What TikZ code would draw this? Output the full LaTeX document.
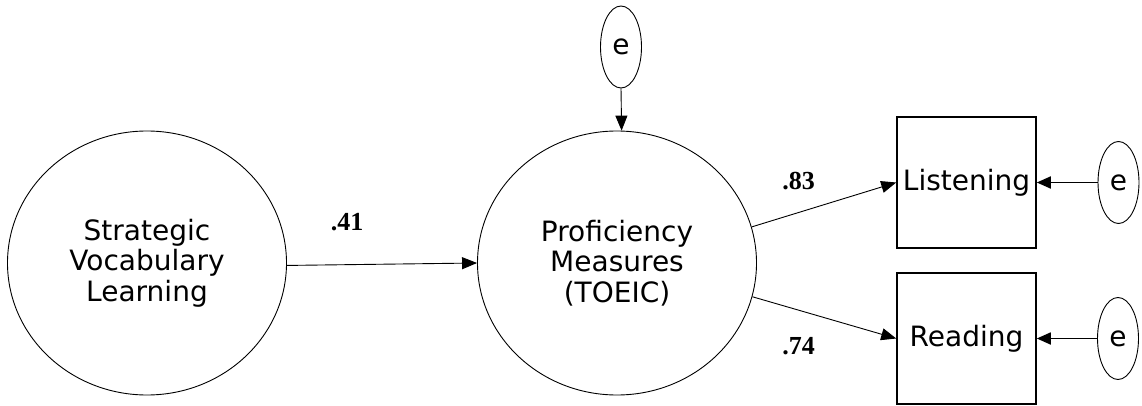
\documentclass[tikz,border=0pt]{standalone}
\usepackage{fontspec}
\setmainfont{DejaVu Sans}
\newfontfamily\numfont{Liberation Serif}
\usetikzlibrary{shapes.geometric,arrows.meta}
\begin{document}
\begin{tikzpicture}[x=1pt,y=-1pt,
 latent/.style={draw, ellipse, line width=0.9pt, minimum width=279pt, minimum height=264pt, inner sep=0pt, align=center, font=\fontsize{28}{30.5}\selectfont},
 err/.style={draw, ellipse, line width=0.9pt, minimum width=41pt, minimum height=82pt, inner sep=0pt, font=\fontsize{28}{30}\selectfont},
 obs/.style={draw, rectangle, line width=1.6pt, minimum width=139pt, minimum height=131pt, inner sep=0pt, font=\fontsize{28}{30}\selectfont},
 arrowpath/.style={line width=0.9pt, -{Triangle[length=15pt,width=12pt]}},
 errpath/.style={line width=1.8pt, -{Triangle[length=14pt,width=12pt]}},
 coef/.style={inner sep=0pt, font=\numfont\bfseries\fontsize{26}{26}\selectfont}
]
\useasboundingbox (0,0) rectangle (1142,406);
\node[latent] (L) at (147,263) {Strategic\\Vocabulary\\Learning};
\node[latent] (M) at (617,263) {Proficiency\\Measures\\(TOEIC)};
\node[err] (eM) at (621,47) {e};
\node[obs] (Lis) at (966.5,182.5) {Listening};
\node[obs] (Rd) at (966.5,338.5) {Reading};
\node[err] (eL) at (1118.5,182.5) {e};
\node[err] (eR) at (1118,338.5) {e};
\node[coef] (c41) at (347,222) {.41};
\node[coef] (c83) at (798.5,181.5) {.83};
\node[coef] (c74) at (798.5,346) {.74};
\draw[arrowpath] (L.-1.5) -- (M.180.8);
\draw[arrowpath] (eM.south) -- (M.88);
\draw[arrowpath] (M.15) -- (Lis.west);
\draw[arrowpath] (M.-14) -- (Rd.west);
\draw[errpath] (eL.west) -- (Lis.east);
\draw[errpath] (eR.west) -- (Rd.east);
\end{tikzpicture}
\end{document}
